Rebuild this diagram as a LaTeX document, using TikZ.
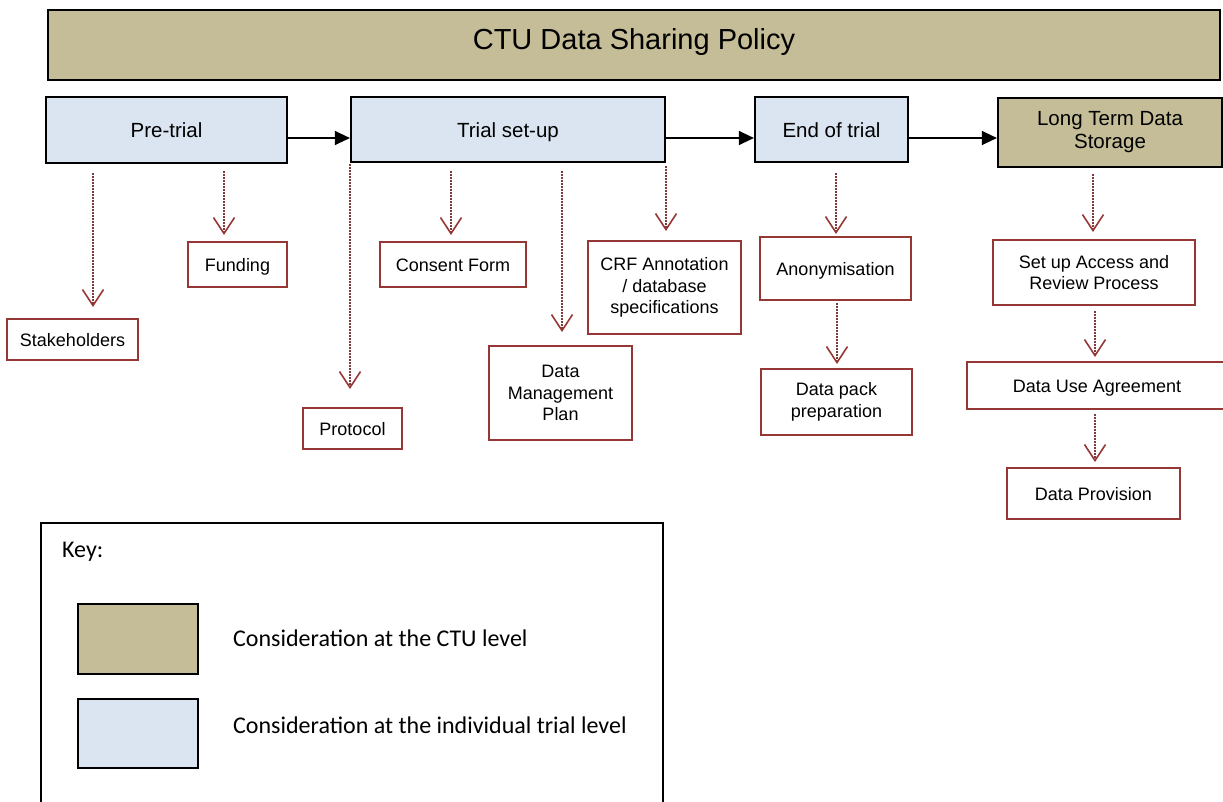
\documentclass[tikz,border=0pt]{standalone}
\usepackage{fontspec}
\setmainfont{Liberation Sans}
\newfontfamily\keyfont{Carlito}
\usetikzlibrary{arrows.meta}
\definecolor{tanfill}{HTML}{C4BD97}
\definecolor{lblue}{HTML}{DBE5F1}
\definecolor{bred}{HTML}{953735}
\definecolor{dred}{HTML}{7F3A3A}
\begin{document}
\begin{tikzpicture}[x=1pt,y=-1pt,
 ctubox/.style={draw=black, line width=2.2pt, fill=tanfill, inner sep=0pt, align=center, font=\fontsize{20.5}{23}\selectfont},
 trialbox/.style={draw=black, line width=2.2pt, fill=lblue, inner sep=0pt, align=center, font=\fontsize{20.5}{23}\selectfont, text height=15pt, text depth=0pt},
 itembox/.style={draw=bred, line width=2pt, fill=white, inner sep=0pt, align=center, font=\fontsize{18}{21.5}\selectfont},
 oneline/.style={text height=13pt, text depth=0pt},
 flow/.style={line width=1.3pt, -{Triangle[length=15pt,width=14pt]}},
 dotarr/.style={draw=dred, line width=1.5pt, dash pattern=on 1.5pt off 1.5pt, -{Straight Barb[length=16pt,width=21pt,line width=1.6pt,color=bred]}},
 sz/.style 2 args={minimum width=#1, minimum height=#2},
 keytext/.style={anchor=west, inner sep=0pt, font=\keyfont\fontsize{24}{28}\selectfont},
]
\useasboundingbox (0,0) rectangle (1223,801);

% title
\node[ctubox, sz={1172pt}{70pt}] (policy) at (634,45) {};
\node[font=\fontsize{29}{33}\selectfont, inner sep=0pt] (policytext) at (634,41.5) {CTU Data Sharing Policy};

% stages
\node[trialbox, sz={241pt}{66pt}] (pre) at (166.5,130) {Pre-trial};
\node[trialbox, sz={314pt}{65pt}] (setup) at (508,129.5) {Trial set-up};
\node[trialbox, sz={153pt}{65pt}] (end) at (831.5,129.5) {End of trial};
\node[ctubox, sz={224pt}{69pt}] (ltds) at (1110,132.5) {Long Term Data\\Storage};

% items
\node[itembox, oneline, sz={131pt}{41pt}] (stake) at (72.5,339.5) {Stakeholders};
\node[itembox, oneline, sz={99pt}{45pt}] (fund) at (237.5,264.5) {Funding};
\node[itembox, oneline, sz={99pt}{41pt}] (proto) at (352.5,428.5) {Protocol};
\node[itembox, oneline, sz={146pt}{45pt}] (consent) at (453,264.5) {Consent Form};
\node[itembox, sz={143pt}{94pt}] (dmp) at (560.5,393) {Data\\Management\\Plan};
\node[itembox, sz={153pt}{93pt}] (crf) at (664.5,287.5) {CRF Annotation\\/ database\\specifications};
\node[itembox, oneline, sz={151pt}{63pt}] (anon) at (835.5,268.5) {Anonymisation};
\node[itembox, sz={151pt}{66pt}] (pack) at (836.5,402) {Data pack\\preparation};
\node[itembox, sz={202pt}{65pt}] (access) at (1094,272.5) {Set up Access and\\Review Process};
\node[itembox, oneline, sz={260pt}{47pt}] (dua) at (1097,385.5) {Data Use Agreement};
\node[itembox, oneline, sz={173pt}{51pt}] (prov) at (1093.5,493.5) {Data Provision};

% main flow
\coordinate (a1) at (0,138);
\draw[flow] (pre.east |- a1) -- (setup.west |- a1);
\draw[flow] (setup.east |- a1) -- (end.west |- a1);
\draw[flow] (end.east |- a1) -- (ltds.west |- a1);

% dotted connectors
\coordinate (xs) at (93,0);
\coordinate (xf) at (224,0);
\coordinate (xp) at (350,0);
\coordinate (xc) at (451,0);
\coordinate (xd) at (562,0);
\coordinate (xr) at (666,0);
\coordinate (xa) at (836,0);
\coordinate (xk) at (837,0);
\coordinate (xl) at (1093,0);
\coordinate (xu) at (1095,0);
\draw[dotarr, shorten <=9pt, shorten >=11pt] (pre.south -| xs) -- (stake.north -| xs);
\draw[dotarr, shorten <=7pt, shorten >=6pt] (pre.south -| xf) -- (fund.north -| xf);
\draw[dotarr, shorten <=1pt, shorten >=18pt] (setup.south -| xp) -- (proto.north -| xp);
\draw[dotarr, shorten <=8pt, shorten >=6pt] (setup.south -| xc) -- (consent.north -| xc);
\draw[dotarr, shorten <=8pt, shorten >=13pt] (setup.south -| xd) -- (dmp.north -| xd);
\draw[dotarr, shorten <=3pt, shorten >=9pt] (setup.south -| xr) -- (crf.north -| xr);
\draw[dotarr, shorten <=10pt, shorten >=2pt] (end.south -| xa) -- (anon.north -| xa);
\draw[dotarr, shorten <=2pt, shorten >=4pt] (anon.south -| xk) -- (pack.north -| xk);
\draw[dotarr, shorten <=6pt, shorten >=7pt] (ltds.south -| xl) -- (access.north -| xl);
\draw[dotarr, shorten <=5pt, shorten >=4pt] (access.south -| xu) -- (dua.north -| xu);
\draw[dotarr, shorten <=4pt, shorten >=5pt] (dua.south -| xu) -- (prov.north -| xu);

% key
\node[draw=black, line width=1.6pt, sz={622pt}{300pt}, anchor=north west, inner sep=0pt] (key) at (40,522) {};
\node[keytext] (keylbl) at (62,552) {Key:};
\node[draw=black, line width=2.5pt, fill=tanfill, sz={120pt}{70pt}, inner sep=0pt] (sw1) at (138,639) {};
\node[draw=black, line width=2.5pt, fill=lblue, sz={120pt}{69pt}, inner sep=0pt] (sw2) at (138,733.5) {};
\node[keytext] (t1) at (233,638) {Consideration at the CTU level};
\node[keytext] (t2) at (233,725) {Consideration at the individual trial level};
\end{tikzpicture}
\end{document}
